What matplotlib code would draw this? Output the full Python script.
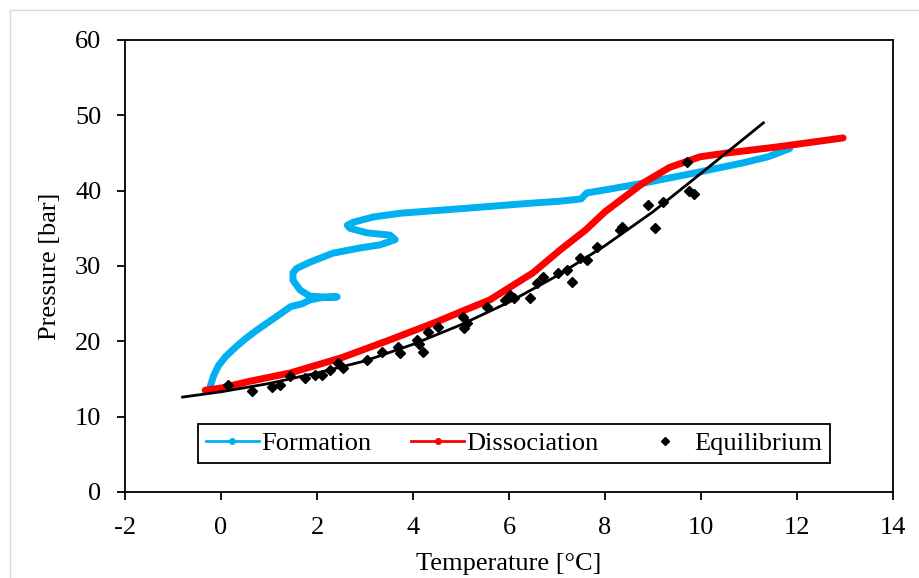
import matplotlib

matplotlib.use("Agg")
import matplotlib.pyplot as plt
from matplotlib.lines import Line2D
from matplotlib.patches import Rectangle

# Formation (hydrate formation path)
form_t = [-0.25, -0.15, -0.05, 0.1, 0.3, 0.5, 0.75, 1.0, 1.25, 1.45, 1.7, 1.85,
          2.1, 2.42, 2.1, 1.85, 1.65, 1.5, 1.5, 1.58, 1.85, 2.33, 2.9, 3.31,
          3.63, 3.52, 3.04, 2.69, 2.63, 2.75, 3.17, 3.73, 4.98, 6.38, 7.06,
          7.5, 7.62, 8.0, 8.8, 9.83, 10.88, 11.4, 11.85]
form_p = [13.5, 15.5, 16.8, 18.0, 19.2, 20.3, 21.5, 22.6, 23.7, 24.6, 25.0, 25.5,
          25.8, 25.9, 25.9, 26.0, 26.8, 28.1, 29.1, 29.7, 30.5, 31.7, 32.4, 32.8,
          33.5, 34.1, 34.4, 35.0, 35.4, 35.8, 36.5, 37.0, 37.6, 38.3, 38.6,
          38.9, 39.7, 40.1, 41.0, 42.3, 43.7, 44.5, 45.6]

# Dissociation
diss_t = [-0.33, 0.0, 0.6, 1.44, 2.5, 3.52, 4.5, 5.1, 5.6, 6.5, 7.06, 7.6,
          8.0, 8.5, 8.79, 9.35, 9.98, 10.54, 11.58, 12.96]
diss_p = [13.5, 13.8, 14.7, 15.8, 17.8, 20.2, 22.6, 24.2, 25.5, 29.1, 32.1, 34.8,
          37.2, 39.6, 41.0, 43.1, 44.5, 45.0, 45.8, 47.0]

# Equilibrium points
eq_t = [0.15, 0.65, 1.06, 1.23, 1.44, 1.75, 1.96, 2.10, 2.27, 2.44, 2.54, 3.04,
        3.35, 3.69, 3.73, 4.08, 4.12, 4.21, 4.31, 4.52, 5.04, 5.06, 5.13, 5.54,
        5.92, 6.02, 6.10, 6.44, 6.58, 6.71, 7.02, 7.20, 7.31, 7.48, 7.62, 7.83,
        8.31, 8.35, 8.90, 9.05, 9.21, 9.71, 9.75, 9.85]
eq_p = [14.2, 13.4, 13.9, 14.2, 15.4, 15.1, 15.5, 15.5, 16.2, 17.1, 16.5, 17.5,
        18.6, 19.3, 18.4, 20.2, 19.6, 18.6, 21.3, 21.9, 23.2, 21.8, 22.4, 24.5,
        25.5, 26.2, 25.8, 25.8, 27.7, 28.5, 29.1, 29.5, 27.9, 31.1, 30.8, 32.5,
        34.8, 35.2, 38.1, 35.1, 38.5, 43.8, 40.0, 39.5]

# Trend line through equilibrium points
trend_t = [-0.8, 0.0, 1.0, 2.0, 3.0, 4.0, 5.0, 6.0, 7.0, 8.0, 9.0, 10.0, 11.3]
trend_p = [12.6, 13.3, 14.4, 15.8, 17.4, 19.6, 22.2, 25.2, 28.7, 32.7, 37.2, 42.3, 49.0]

BLUE = "#00b0f0"
RED = "#ff0000"
FS = 19

plt.rcParams["font.family"] = ["Liberation Serif", "DejaVu Serif"]
plt.rcParams["font.size"] = FS
plt.rcParams["axes.unicode_minus"] = False

fig = plt.figure(figsize=(9.19, 5.78), dpi=100)
ax = fig.add_axes([125 / 919, 1 - 492 / 578, 768 / 919, 452 / 578])

# light grey chart-area border
fig.patches.append(Rectangle((10 / 919, -0.1), 1.1, 1 - 10 / 578 + 0.1,
                             transform=fig.transFigure, fill=False,
                             edgecolor="#d9d9d9", linewidth=1))

ax.plot(form_t, form_p, color=BLUE, lw=5, solid_capstyle="round",
        solid_joinstyle="round", zorder=2)
ax.plot(diss_t, diss_p, color=RED, lw=5, solid_capstyle="round",
        solid_joinstyle="round", zorder=3)
ax.plot(trend_t, trend_p, color="black", lw=2, zorder=4)
ax.plot(eq_t, eq_p, linestyle="none", marker="D", ms=5.5, color="black", zorder=5)

ax.set_xlim(-2, 14)
ax.set_ylim(0, 60)
ax.set_xticks(range(-2, 15, 2))
ax.set_yticks(range(0, 61, 10))
ax.tick_params(direction="out", length=6, width=1.3, labelsize=FS)
ax.tick_params(axis="x", pad=12)
ax.tick_params(axis="y", pad=11)
for s in ax.spines.values():
    s.set_linewidth(1.3)
    s.set_color("black")

ax.set_xlabel("Temperature [°C]", fontsize=FS, labelpad=10)
ax.set_ylabel("Pressure [bar]", fontsize=FS, labelpad=10)

handles = [
    Line2D([], [], color=BLUE, lw=2, marker="o", ms=4),
    Line2D([], [], color=RED, lw=2, marker="o", ms=4),
    Line2D([], [], color="black", linestyle="none", marker="D", ms=4),
]
leg = ax.legend(handles, ["Formation", "Dissociation", "Equilibrium"], ncol=3,
                loc="lower left", bbox_to_anchor=(0.095, 0.064, 0.823, 0.108),
                mode="expand", frameon=True, fancybox=False, edgecolor="black",
                framealpha=1, fontsize=FS, handlelength=2.0, handletextpad=0.1,
                columnspacing=1.0, borderaxespad=0, borderpad=0.3)
leg.get_frame().set_linewidth(1.3)

fig.savefig("out.png", dpi=100)
